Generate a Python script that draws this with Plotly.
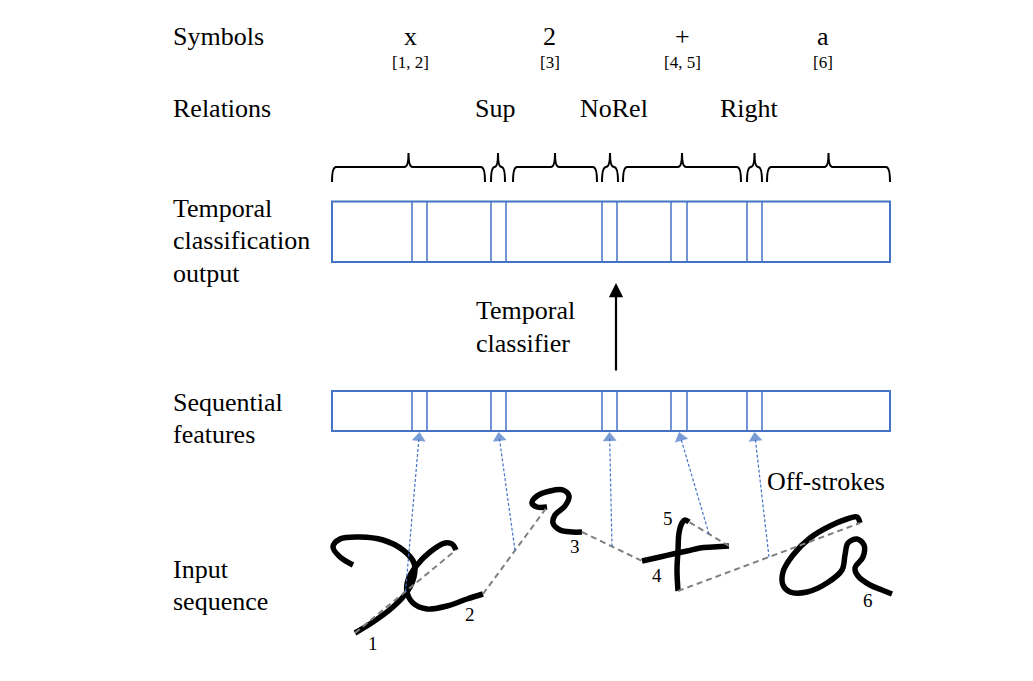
import numpy as np
import plotly.graph_objects as go

# ---- content (image pixel coordinates, y grows downward) ----
SYMBOLS = ["x", "2", "+", "a"]
SYMBOL_STROKES = ["[1, 2]", "[3]", "[4, 5]", "[6]"]
RELATIONS = ["Sup", "NoRel", "Right"]

# column edges of the frame boxes (outer edges + the narrow blank/relation frames)
FRAME_EDGES = [332, 412, 427, 491, 506, 602, 617, 671, 687, 747, 762, 890]
# braces that group the output frames
BRACE_SPANS = [(332, 485), (491, 505), (513, 597), (602, 618), (623, 741), (747, 762), (767, 890)]

# handwritten pen strokes 1..6
stroke1_x = [353, 340, 333, 340, 360, 383, 403, 414, 414, 407, 393, 373, 355]
stroke1_y = [565, 557, 547, 539, 537, 540, 550, 563, 577, 592, 607, 622, 633]
stroke2_x = [456, 452, 445, 430, 417, 408, 407, 413, 427, 447, 467, 483]
stroke2_y = [550, 544, 543, 552, 565, 580, 592, 603, 609, 606, 599, 594]
stroke3_x = [547, 537, 532, 537, 550, 563, 569, 565, 555, 553, 560, 572, 582]
stroke3_y = [507, 507, 503, 496, 491, 490, 496, 506, 515, 523, 530, 532, 532]
stroke4_x = [642, 660, 673, 687, 700, 713, 729]
stroke4_y = [561, 557, 554, 551, 548, 547, 546]
stroke5_x = [689, 685, 682, 679, 678, 677, 678]
stroke5_y = [522, 520, 523, 533, 550, 570, 591]
stroke6_x = [860, 857, 847, 830, 810, 793, 783, 783, 790, 807, 827, 842, 845, 848, 857, 864, 863, 855, 858, 870, 882, 892]
stroke6_y = [523, 517, 519, 526, 538, 555, 572, 585, 592, 592, 583, 570, 555, 543, 539, 545, 557, 568, 576, 585, 590, 594]

W, H = 1033, 681
INK = "black"
BLUE = "#4472C4"
GRAY = "#808080"
SERIF = "Liberation Serif, Times New Roman, serif"

OUT_TOP, OUT_BOT = 201.5, 262
SEQ_TOP, SEQ_BOT = 391, 431

fig = go.Figure()

strokes = [(stroke1_x, stroke1_y), (stroke2_x, stroke2_y), (stroke3_x, stroke3_y),
           (stroke4_x, stroke4_y), (stroke5_x, stroke5_y), (stroke6_x, stroke6_y)]

# pen-down strokes
for sx, sy in strokes:
    fig.add_trace(go.Scatter(x=sx, y=sy, mode="lines",
                             line=dict(color=INK, width=5.5, shape="spline", smoothing=1),
                             hoverinfo="skip"))

# off-strokes (pen up) between consecutive strokes
off_strokes = []
for (ax_, ay_), (bx_, by_) in zip(strokes[:-1], strokes[1:]):
    p0 = (ax_[-1], ay_[-1])
    p1 = (bx_[0], by_[0])
    off_strokes.append((p0, p1))
    fig.add_trace(go.Scatter(x=[p0[0], p1[0]], y=[p0[1], p1[1]], mode="lines",
                             line=dict(color=GRAY, width=2, dash="6px,4px"),
                             hoverinfo="skip"))

# off-stroke features map to the narrow frames of the sequence
gaps = list(zip(FRAME_EDGES[1:-1:2], FRAME_EDGES[2:-1:2]))
for (p0, p1), (g0, g1) in zip(off_strokes, gaps):
    base = np.array([(p0[0] + p1[0]) / 2, (p0[1] + p1[1]) / 2])
    tip = np.array([(g0 + g1) / 2, SEQ_BOT + 1])
    u = (tip - base) / np.linalg.norm(tip - base)
    head = tip - u * 6
    fig.add_trace(go.Scatter(x=[base[0], head[0]], y=[base[1], head[1]], mode="lines+markers",
                             line=dict(color=BLUE, width=1.2, dash="3px,2px"),
                             marker=dict(symbol="triangle-up", size=[0, 12], color=BLUE,
                                         angleref="previous", line=dict(width=0)),
                             hoverinfo="skip"))

shapes = []
# frame boxes
for y0, y1 in [(OUT_TOP, OUT_BOT), (SEQ_TOP, SEQ_BOT)]:
    shapes.append(dict(type="rect", x0=FRAME_EDGES[0], x1=FRAME_EDGES[-1], y0=y0, y1=y1,
                       line=dict(color=BLUE, width=2)))
    for e in FRAME_EDGES[1:-1]:
        shapes.append(dict(type="line", x0=e, x1=e, y0=y0, y1=y1,
                           line=dict(color=BLUE, width=1.5)))

# braces
yb, ym, yt = 182, 167, 153
for x0, x1 in BRACE_SPANS:
    c = (x0 + x1) / 2
    k = min(4, (x1 - x0) / 4)
    path = (f"M {x0},{yb} Q {x0},{ym} {x0 + k},{ym} L {c - k},{ym} Q {c},{ym} {c},{yt} "
            f"Q {c},{ym} {c + k},{ym} L {x1 - k},{ym} Q {x1},{ym} {x1},{yb}")
    shapes.append(dict(type="path", path=path, line=dict(color=INK, width=2)))

annotations = []


def label(text, x, y, size=26, anchor="left"):
    annotations.append(dict(text=text, x=x, y=y, xref="x", yref="y", showarrow=False,
                            xanchor=anchor, yanchor="middle",
                            font=dict(family=SERIF, size=size, color="black")))


label("Symbols", 171, 36)
label("Relations", 171, 108)
for t, y in zip(["Temporal", "classification", "output"], [208, 240.5, 273]):
    label(t, 171, y)
for t, y in zip(["Temporal", "classifier"], [310.5, 343]):
    label(t, 474, y)
for t, y in zip(["Sequential", "features"], [402, 434.5]):
    label(t, 171, y)
for t, y in zip(["Input", "sequence"], [569, 601]):
    label(t, 171, y)
label("Off-strokes", 765, 481)

for s, idx, x in zip(SYMBOLS, SYMBOL_STROKES, [410, 549.5, 682, 822.5]):
    label(s, x, 36, anchor="center")
    label(idx, x, 62, size=17, anchor="center")
for r, x in zip(RELATIONS, [495, 614, 749]):
    label(r, x, 108, anchor="center")

for n, (x, y) in enumerate([(373, 643), (470, 614), (575, 546), (657, 575), (668, 518), (868, 600)], 1):
    label(str(n), x, y, size=19, anchor="center")

# temporal classifier arrow
annotations.append(dict(x=616, y=283, ax=616, ay=372, xref="x", yref="y", axref="x", ayref="y",
                        text="", showarrow=True, arrowhead=2, arrowsize=1.3, arrowwidth=2.2,
                        arrowcolor=INK))

fig.update_layout(
    width=W, height=H,
    margin=dict(l=0, r=0, t=0, b=0),
    paper_bgcolor="white", plot_bgcolor="white",
    showlegend=False,
    xaxis=dict(range=[0, W], visible=False, fixedrange=True),
    yaxis=dict(range=[H, 0], visible=False, fixedrange=True),
    shapes=shapes,
    annotations=annotations,
)

fig.write_html("out.html", config={"displayModeBar": False},
               post_script="document.body.style.margin='0';")
